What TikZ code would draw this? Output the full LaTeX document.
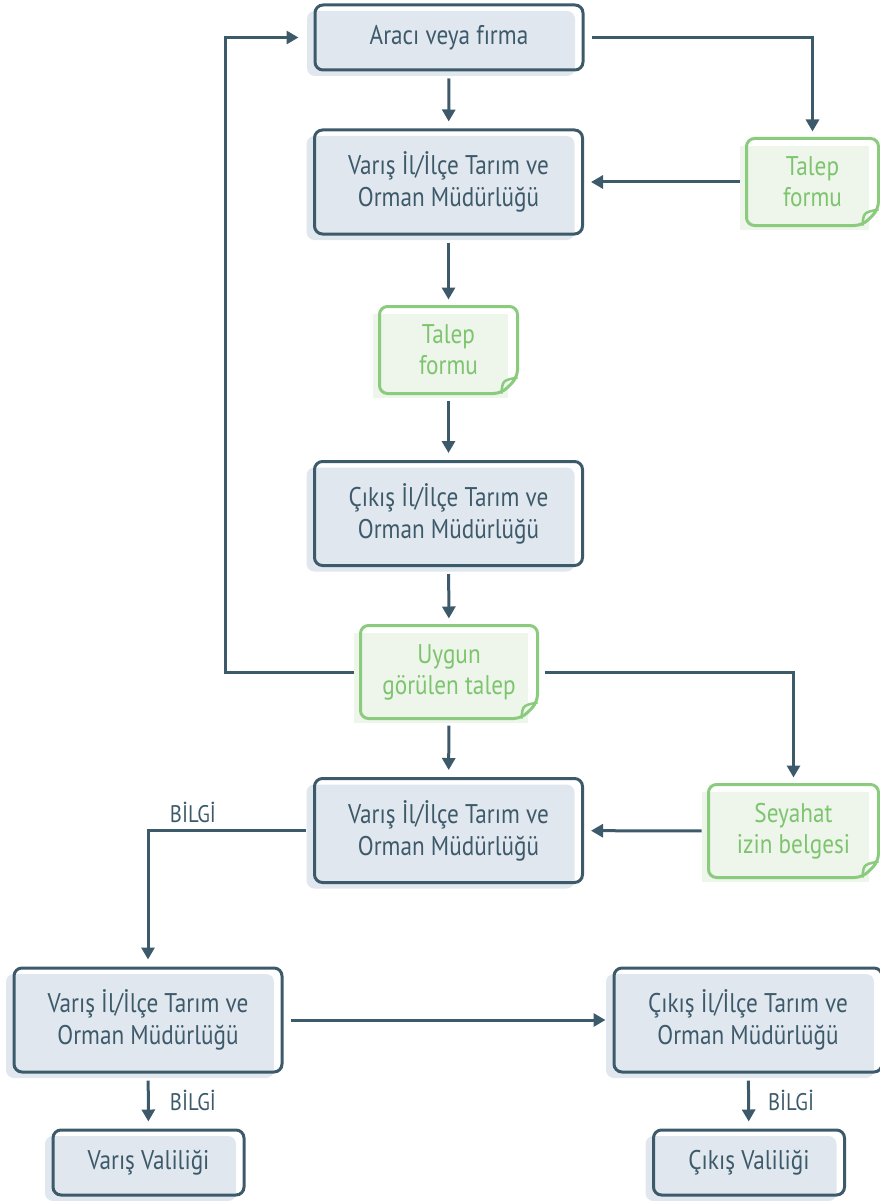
\documentclass[tikz,border=0pt]{standalone}
\usepackage{fontspec}
\setmainfont{PT Sans}[FakeStretch=0.86]
\usetikzlibrary{arrows.meta}
\definecolor{boxline}{HTML}{3D5A6B}
\definecolor{boxfill}{HTML}{E1E7EE}
\definecolor{noteline}{HTML}{8BCB7D}
\definecolor{notefill}{HTML}{EEF5EA}
\definecolor{notetext}{HTML}{7DC46E}
\tikzset{
  box/.style={draw=boxline, line width=3pt, rounded corners=8pt, text=boxline,
    align=center, minimum width=268pt, minimum height=104pt,
    font=\fontsize{27}{32}\selectfont,
    preaction={fill=boxfill, transform canvas={shift={(-8pt,-6pt)}}}},
  note/.style={draw, draw opacity=0, line width=3pt, text=notetext, align=center,
    font=\fontsize{27}{31}\selectfont,
    preaction={fill=notefill, transform canvas={shift={(-8pt,-6pt)}}}},
  link/.style={draw=boxline, line width=3pt, -{Triangle[length=12pt,width=13pt]},
    shorten <=7pt, shorten >=7pt},
  bilgi/.style={text=boxline, font=\fontsize{24}{28}\selectfont}
}
\begin{document}
\begin{tikzpicture}[x=1pt,y=-1pt]
\useasboundingbox (0,0) rectangle (879,1201);

% kutular
\node[box, minimum height=65pt] (arac) at (449,37.5) {Aracı veya fırma};
\node[box] (varis1) at (448.5,182) {Varış İl/İlçe Tarım ve\\Orman Müdürlüğü};
\node[box] (cikis1) at (448.5,513.5) {Çıkış İl/İlçe Tarım ve\\Orman Müdürlüğü};
\node[box] (varis2) at (448.5,830.5) {Varış İl/İlçe Tarım ve\\Orman Müdürlüğü};
\node[box] (varis3) at (148,1020) {Varış İl/İlçe Tarım ve\\Orman Müdürlüğü};
\node[box] (cikis2) at (748,1020) {Çıkış İl/İlçe Tarım ve\\Orman Müdürlüğü};
\node[box, minimum width=191pt, minimum height=65pt] (varisvali) at (148.5,1162.5) {Varış Valiliği};
\node[box, minimum width=191pt, minimum height=65pt] (cikisvali) at (749,1162.5) {Çıkış Valiliği};

% belgeler
\node[note, minimum width=129pt, minimum height=84pt] (talepsag) at (812.5,182) {Talep\\formu};
\node[note, minimum width=135pt, minimum height=84pt] (taleporta) at (448.5,350) {Talep\\formu};
\node[note, minimum width=174pt, minimum height=90pt] (uygun) at (449,672) {Uygun\\görülen talep};
\node[note, minimum width=167pt, minimum height=90pt] (seyahat) at (793.5,831) {Seyahat\\izin belgesi};

\foreach \n in {talepsag,taleporta,uygun,seyahat}{
  \draw[noteline, line width=3pt, rounded corners=8pt]
    ([yshift=16pt]\n.south east) -- (\n.north east) -- (\n.north west)
    -- (\n.south west) -- ([xshift=-16pt]\n.south east) -- cycle;
  \draw[noteline, line width=2.5pt] ([xshift=-16pt]\n.south east)
    .. controls ([xshift=-15pt,yshift=13pt]\n.south east) .. ([yshift=16pt]\n.south east);
}

% oklar
\coordinate (donus) at (225,37.5);
\draw[link] (arac) -- (varis1);
\draw[link] (arac.east) -| (talepsag);
\draw[link] (talepsag) -- (varis1);
\draw[link] (varis1) -- (taleporta);
\draw[link] (taleporta) -- (cikis1);
\draw[link] (cikis1) -- (uygun);
\draw[link, shorten >=15pt] (uygun.west) -| (donus) -- (arac);
\draw[link] (uygun.east) -| (seyahat);
\draw[link] (uygun) -- (varis2);
\draw[link] (seyahat) -- (varis2);
\draw[link] (varis2.west) -| (varis3);
\draw[link] (varis3) -- (cikis2);
\draw[link] (varis3) -- (varisvali);
\draw[link] (cikis2) -- (cikisvali);

\node[bilgi] (bilgi1) at (193,812) {BİLGİ};
\node[bilgi] (bilgi2) at (193,1100) {BİLGİ};
\node[bilgi] (bilgi3) at (791,1100) {BİLGİ};
\end{tikzpicture}
\end{document}
